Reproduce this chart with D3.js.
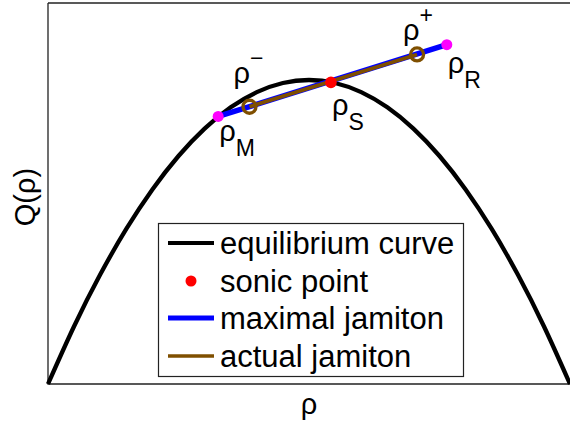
<!DOCTYPE html>
<html><head><meta charset="utf-8">
<script src="https://cdn.jsdelivr.net/npm/d3@7"></script>
<style>body{margin:0;background:#fff}svg{display:block;font-family:"Liberation Sans",Arial,sans-serif}</style>
</head><body><svg id="c" width="570" height="425"></svg>
<script>
// equilibrium curve samples (rho, Q)
const curveRho = [0, 0.05, 0.1, 0.15, 0.2, 0.25, 0.3, 0.35, 0.4, 0.45, 0.5, 0.55, 0.6, 0.65, 0.7, 0.75, 0.8, 0.85, 0.9, 0.95, 1];
const curveQ   = [0, 0.0475, 0.09, 0.1275, 0.16, 0.1875, 0.21, 0.2275, 0.24, 0.2475, 0.25, 0.2475, 0.24, 0.2275, 0.21, 0.1875, 0.16, 0.1275, 0.09, 0.0475, 0];
// special points
const pointNames = ["M", "minus", "S", "plus", "R"];
const pointRho = [0.326, 0.386, 0.542, 0.707, 0.764];
const pointQ   = [0.220, 0.228, 0.248, 0.271, 0.279];
const legendLabels = ["equilibrium curve", "sonic point", "maximal jamiton", "actual jamiton"];

const svg = d3.select("#c");
const x = d3.scaleLinear().domain([0, 1]).range([48, 570]);
const y = d3.scaleLinear().domain([0, 0.3133]).range([384, 3]);
const P = {}; pointNames.forEach((n, i) => P[n] = [pointRho[i], pointQ[i]]);

// axes box
svg.append("path").attr("d", `M${x(0)},${y(0.3133)}V${y(0)}H575`).attr("stroke", "#222").attr("stroke-width", 1.3).attr("fill", "none");
svg.append("path").attr("d", `M${x(0)},${y(0.3133)}H575`).attr("stroke", "#222").attr("stroke-width", 1.3).attr("fill", "none");

// equilibrium curve
const line = d3.line().x(d => x(d[0])).y(d => y(d[1])).curve(d3.curveNatural);
svg.append("path").datum(curveRho.map((r, i) => [r, curveQ[i]]))
  .attr("d", line).attr("fill", "none").attr("stroke", "#000").attr("stroke-width", 4.3);

const seg = d3.line().x(d => x(d[0])).y(d => y(d[1]));
// maximal jamiton
svg.append("path").datum([P.M, P.R]).attr("d", seg).attr("stroke", "#0000ff").attr("stroke-width", 5.5).attr("fill", "none");
// actual jamiton
svg.append("path").datum([P.minus, P.plus]).attr("d", seg).attr("stroke", "#7f4f00").attr("stroke-width", 3.8).attr("fill", "none");
// rho- / rho+ circles
[P.minus, P.plus].forEach(p => {
  svg.append("circle").attr("cx", x(p[0])).attr("cy", y(p[1])).attr("r", 6.5).attr("fill", "none").attr("stroke", "#7f4f00").attr("stroke-width", 3.3);
});
// M, R magenta
[P.M, P.R].forEach(p => {
  svg.append("circle").attr("cx", x(p[0])).attr("cy", y(p[1])).attr("r", 5.5).attr("fill", "#ff00ff");
});
// sonic point
svg.append("circle").attr("cx", x(P.S[0])).attr("cy", y(P.S[1])).attr("r", 5.8).attr("fill", "#ff0000");

// labels
function lab(px, py, sub, isSup) {
  const t = svg.append("text").attr("x", px).attr("y", py).attr("font-size", 29).attr("fill", "#000");
  t.append("tspan").text("ρ");
  t.append("tspan").attr("font-size", 23).attr("dy", isSup ? -17 : 15).text(sub);
}
lab(x(P.minus[0]) - 16, y(P.minus[1]) - 24, "−", true);
lab(x(P.M[0]) + 1, y(P.M[1]) + 25, "M", false);
lab(x(P.S[0]) + 1, y(P.S[1]) + 33, "S", false);
lab(x(P.plus[0]) - 14, y(P.plus[1]) - 14, "+", true);
lab(x(P.R[0]) + 1, y(P.R[1]) + 28, "R", false);

// axis labels
svg.append("text").attr("x", 309).attr("y", 414).attr("text-anchor", "middle").attr("font-size", 29).text("ρ");
svg.append("text").attr("transform", "translate(35,197) rotate(-90)").attr("text-anchor", "middle").attr("font-size", 29).text("Q(ρ)");

// legend
const lg = svg.append("g");
lg.append("rect").attr("x", 158.5).attr("y", 223.5).attr("width", 305).attr("height", 153).attr("fill", "#fff").attr("stroke", "#222").attr("stroke-width", 1.2);
const rowY = [243, 281, 318, 356];
legendLabels.forEach((t, i) => {
  lg.append("text").attr("x", 220).attr("y", rowY[i] + 11).attr("font-size", 31).text(t);
});
lg.append("line").attr("x1", 168).attr("x2", 214).attr("y1", rowY[0]).attr("y2", rowY[0]).attr("stroke", "#000").attr("stroke-width", 4);
lg.append("circle").attr("cx", 191).attr("cy", rowY[1]).attr("r", 5.5).attr("fill", "#ff0000");
lg.append("line").attr("x1", 168).attr("x2", 214).attr("y1", rowY[2]).attr("y2", rowY[2]).attr("stroke", "#0000ff").attr("stroke-width", 5);
lg.append("line").attr("x1", 168).attr("x2", 214).attr("y1", rowY[3]).attr("y2", rowY[3]).attr("stroke", "#7f4f00").attr("stroke-width", 3.5);
</script></body></html>
